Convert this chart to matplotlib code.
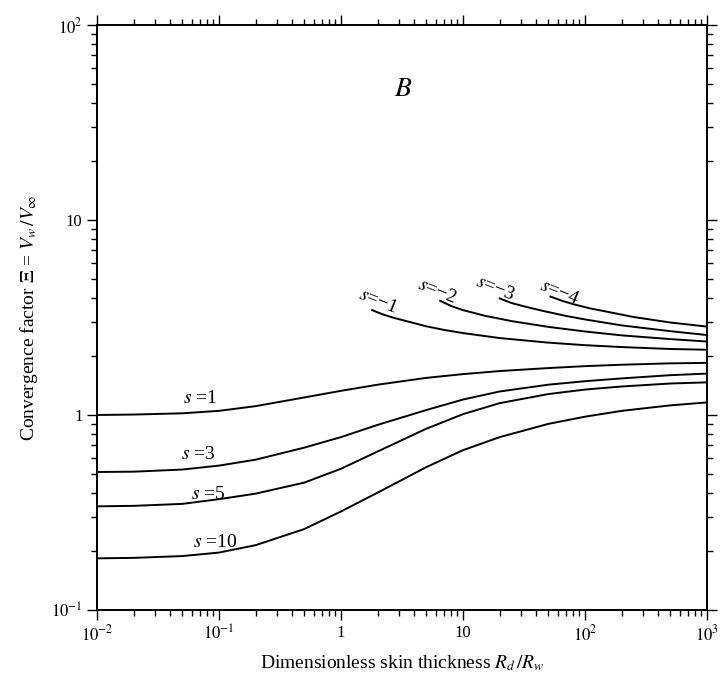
import matplotlib
matplotlib.use("Agg")
import matplotlib.pyplot as plt
from matplotlib.ticker import FixedLocator, LogLocator, NullFormatter

plt.rcParams['font.family'] = ['Liberation Serif', 'DejaVu Serif']
plt.rcParams['mathtext.fontset'] = 'stix'

# lower family, s > 0 (curves start at the left edge)
x_pos = [0.01, 0.02, 0.05, 0.1, 0.2, 0.5, 1, 2, 5, 10, 20, 50, 100, 200, 500, 1000]
y_s1 = [1.0, 1.005, 1.02, 1.05, 1.11, 1.23, 1.33, 1.43, 1.55, 1.62, 1.68, 1.74, 1.78, 1.81, 1.84, 1.85]
y_s3 = [0.51, 0.512, 0.525, 0.55, 0.59, 0.68, 0.77, 0.89, 1.06, 1.20, 1.32, 1.43, 1.49, 1.54, 1.60, 1.63]
y_s5 = [0.34, 0.342, 0.35, 0.37, 0.395, 0.45, 0.53, 0.65, 0.85, 1.01, 1.15, 1.28, 1.35, 1.40, 1.45, 1.47]
y_s10 = [0.184, 0.185, 0.189, 0.197, 0.215, 0.26, 0.32, 0.40, 0.54, 0.66, 0.77, 0.90, 0.98, 1.05, 1.12, 1.16]

# upper family, s < 0 (curves start part way across)
x_m1 = [1.8, 2.2, 2.7, 3.5, 5, 7, 10, 20, 50, 100, 200, 500, 1000]
y_m1 = [3.45, 3.28, 3.15, 3.02, 2.85, 2.73, 2.63, 2.48, 2.35, 2.28, 2.23, 2.18, 2.16]
x_m2 = [6.5, 8, 10, 15, 25, 50, 100, 200, 500, 1000]
y_m2 = [3.85, 3.62, 3.45, 3.23, 3.03, 2.83, 2.68, 2.56, 2.45, 2.38]
x_m3 = [20, 25, 32, 45, 70, 100, 200, 500, 1000]
y_m3 = [3.96, 3.75, 3.6, 3.42, 3.22, 3.09, 2.88, 2.69, 2.57]
x_m4 = [52, 65, 80, 110, 150, 250, 500, 1000]
y_m4 = [4.05, 3.85, 3.7, 3.52, 3.39, 3.18, 2.98, 2.84]

pos_labels = ['1', '3', '5', '10']
pos_label_xy = [(0.070, 1.22), (0.067, 0.63), (0.081, 0.392), (0.093, 0.223)]
neg_labels = ['1', '2', '3', '4']
neg_label_xy = [(2.0, 3.8), (6.1, 4.3), (18.3, 4.45), (62, 4.22)]

x_ticks = [1e-2, 1e-1, 1, 10, 1e2, 1e3]
x_tick_labels = ['$10^{-2}$', '$10^{-1}$', '1', '10', '$10^{2}$', '$10^{3}$']
y_ticks = [1e-1, 1, 10, 1e2]
y_tick_labels = ['$10^{-1}$', '1', '10', '$10^{2}$']


def main():
    fig = plt.figure(figsize=(7.27, 6.77), dpi=100)
    ax = fig.add_axes([0.1334, 0.099, 0.8391, 0.8641])

    for ys in [y_s1, y_s3, y_s5, y_s10]:
        ax.plot(x_pos, ys, color='black', lw=1.4)
    for xs, ys in [(x_m1, y_m1), (x_m2, y_m2), (x_m3, y_m3), (x_m4, y_m4)]:
        ax.plot(xs, ys, color='black', lw=1.4)

    for lab, (x, y) in zip(pos_labels, pos_label_xy):
        ax.text(x, y, '$s$ =' + lab, ha='center', va='center', fontsize=14)
    for lab, (x, y) in zip(neg_labels, neg_label_xy):
        ax.text(x, y, '$s$=\u2212' + lab, ha='center', va='center',
                fontsize=14, rotation=-22)

    ax.text(0.502, 0.89, '$B$', transform=ax.transAxes, ha='center',
            va='center', fontsize=20)

    ax.set_xscale('log')
    ax.set_yscale('log')
    ax.set_xlim(1e-2, 1e3)
    ax.set_ylim(1e-1, 1e2)

    ax.xaxis.set_major_locator(FixedLocator(x_ticks))
    ax.set_xticklabels(x_tick_labels)
    ax.yaxis.set_major_locator(FixedLocator(y_ticks))
    ax.set_yticklabels(y_tick_labels)
    ax.xaxis.set_minor_locator(LogLocator(base=10, subs=range(2, 10), numticks=20))
    ax.yaxis.set_minor_locator(LogLocator(base=10, subs=range(2, 10), numticks=20))
    ax.xaxis.set_minor_formatter(NullFormatter())
    ax.yaxis.set_minor_formatter(NullFormatter())

    ax.tick_params(which='both', direction='out', top=True, right=True,
                   width=1.0, labelsize=12)
    ax.tick_params(which='major', length=7)
    ax.tick_params(which='minor', length=4)
    for sp in ax.spines.values():
        sp.set_linewidth(1.4)

    ax.set_xlabel('Dimensionless skin thickness $R_d\\,/R_w$', fontsize=14,
                  labelpad=6)
    ax.set_ylabel('Convergence factor $\\Xi$ = $V_w\\,/V_\\infty$', fontsize=14,
                  labelpad=8)

    fig.savefig('out.png', dpi=100)


if __name__ == "__main__":
    main()
